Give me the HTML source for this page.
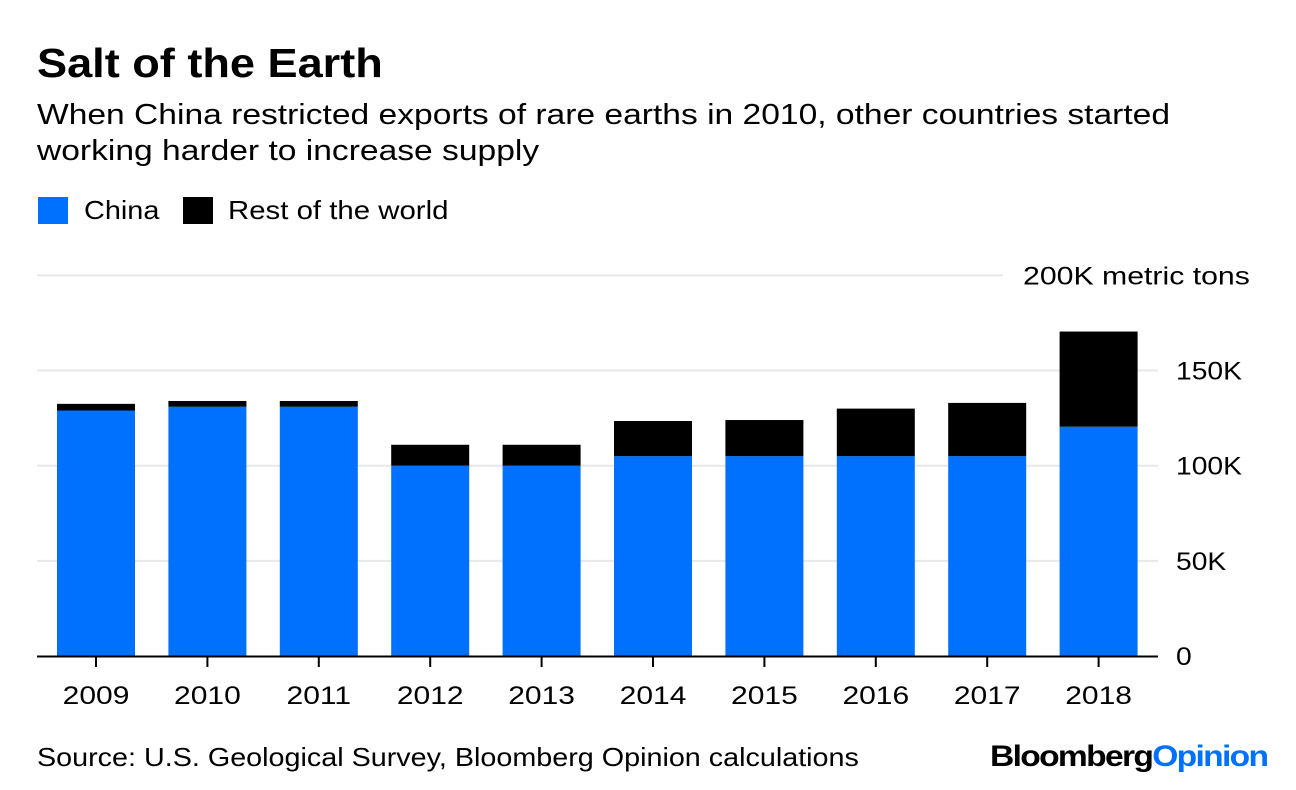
<!DOCTYPE html>
<html><head><meta charset="utf-8"><style>
body{margin:0;width:1296px;height:790px;background:#fff;font-family:"Liberation Sans",sans-serif;overflow:hidden;position:relative}
.t{position:absolute;white-space:nowrap;color:#000;transform-origin:0 0}
</style></head><body>
<div class="t" style="left:37px;top:40px;font-size:41px;font-weight:bold;transform:scaleX(1.1)">Salt of the Earth</div>
<div class="t" style="left:37px;top:97px;font-size:29px;line-height:36px;transform:scaleX(1.158)">When China restricted exports of rare earths in 2010, other countries started<br>working harder to increase supply</div>
<div style="position:absolute;left:38px;top:197px;width:30px;height:27px;background:#0070ff"></div>
<div class="t" style="left:84px;top:195px;font-size:26px;transform:scaleX(1.11)">China</div>
<div style="position:absolute;left:183px;top:197px;width:30px;height:27px;background:#000"></div>
<div class="t" style="left:228px;top:195px;font-size:26px;transform:scaleX(1.13)">Rest of the world</div>
<svg id="c" width="1296" height="790" style="position:absolute;left:0;top:0"></svg>
<div class="t" style="left:37px;top:742px;font-size:26px;transform:scaleX(1.105)">Source: U.S. Geological Survey, Bloomberg Opinion calculations</div>
<div class="t" style="left:990px;top:740px;font-size:30px;font-weight:bold;letter-spacing:-1.5px;transform:scaleX(1.12)">Bloomberg<span style="color:#0070ff">Opinion</span></div>
<script>
const years=["2009","2010","2011","2012","2013","2014","2015","2016","2017","2018"];
const china=[129,131,131,100,100,105,105,105,105,120.5];
const rest=[3.5,3,3,11,11,18.5,19,25,28,50];
const ticks=[0,50,100,150,200];
const tickLabels=["0","50K","100K","150K","200K metric tons"];
const svg=document.getElementById('c');const NS='http://www.w3.org/2000/svg';
const y=v=>656-v*1.903;const x=i=>96+i*111.4;
function mk(t,a){const e=document.createElementNS(NS,t);for(const k in a)e.setAttribute(k,a[k]);svg.appendChild(e);return e;}
ticks.forEach((v,i)=>{
 if(v>0){const g=mk('line',{x1:37,x2:v==200?1003:1158,y1:y(v),y2:y(v),stroke:'#e8e8e8','stroke-width':2});
 }
 const tx=v==200?1023:1176;
 const t=mk('text',{x:0,y:0,transform:'translate('+tx+','+(y(v)+9)+') scale('+(v==200?1.21:1.13)+',1)','font-size':25,'font-family':'Liberation Sans, sans-serif'});
 t.textContent=tickLabels[i];
 
});
years.forEach((yr,i)=>{
 const cx=x(i);
 const b=mk('rect',{x:cx-39,width:78,y:y(china[i]),height:y(0)-y(china[i]),fill:'#0070ff'});
 
 const r=mk('rect',{x:cx-39,width:78,y:y(china[i]+rest[i]),height:y(china[i])-y(china[i]+rest[i]),fill:'#000'});
 
 const tk=mk('line',{x1:cx,x2:cx,y1:656,y2:667,stroke:'#000','stroke-width':2});
 
 const t=mk('text',{x:0,y:0,transform:'translate('+cx+',704) scale(1.2,1)','font-size':25,'text-anchor':'middle','font-family':'Liberation Sans, sans-serif'});
 t.textContent=yr;
 
});
const ax=mk('line',{x1:37,x2:1158,y1:656.5,y2:656.5,stroke:'#000','stroke-width':2});

</script>
</body></html>
